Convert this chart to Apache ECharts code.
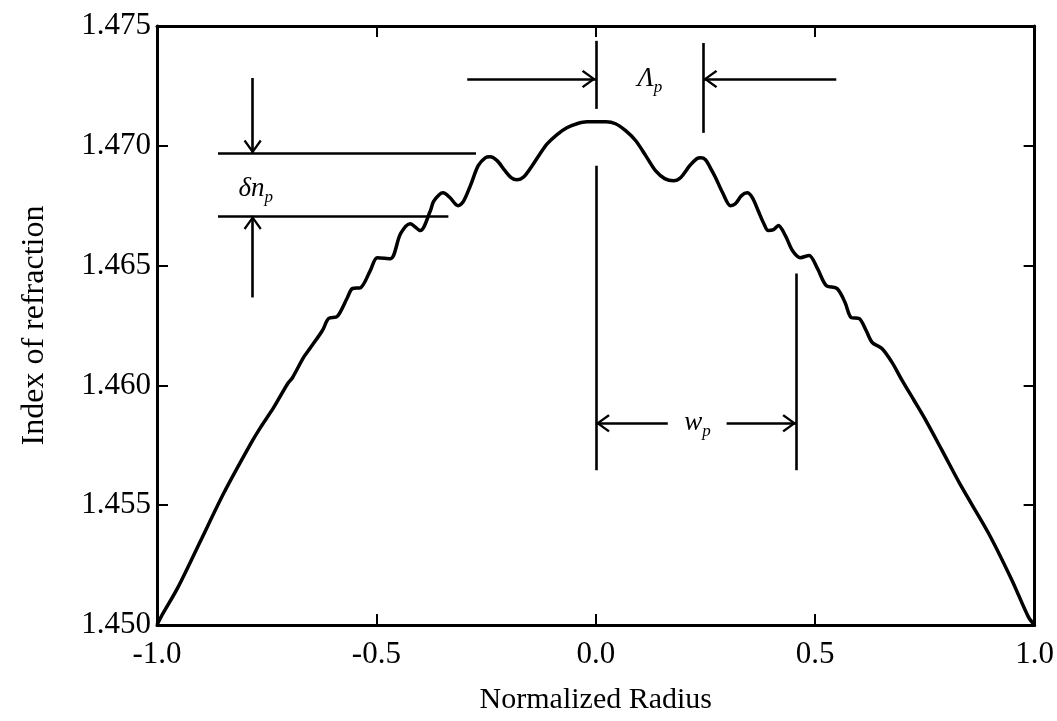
<!DOCTYPE html>
<html>
<head>
<meta charset="utf-8">
<script src="https://cdn.jsdelivr.net/npm/echarts@6/dist/echarts.min.js"></script>
<style>
html,body{margin:0;padding:0;background:#fff;}
#chart{width:1057px;height:721px;}
</style>
</head>
<body>
<div id="chart"></div>
<script>
// Normalized radius (x) and index of refraction (y)
const radius = [
  -1.0, -0.991, -0.952, -0.900, -0.848, -0.786, -0.764, -0.734, -0.702, -0.691,
  -0.666, -0.650, -0.623, -0.609, -0.589, -0.566, -0.555, -0.536, -0.514, -0.498,
  -0.468, -0.445, -0.423, -0.400, -0.377, -0.370, -0.357, -0.348, -0.332, -0.314,
  -0.302, -0.286, -0.268, -0.252, -0.241, -0.225, -0.207, -0.193, -0.180, -0.164,
  -0.145, -0.127, -0.111, -0.089, -0.066, -0.043, -0.020, 0.000,
  0.023, 0.045, 0.068, 0.091, 0.114, 0.136, 0.157, 0.177, 0.193, 0.214,
  0.230, 0.239, 0.250, 0.261, 0.273, 0.289, 0.307, 0.318, 0.332, 0.345,
  0.357, 0.370, 0.382, 0.393, 0.405, 0.416, 0.432, 0.448, 0.466, 0.486,
  0.505, 0.525, 0.550, 0.568, 0.582, 0.600, 0.616, 0.630, 0.652, 0.675,
  0.698, 0.725, 0.752, 0.789, 0.834, 0.895, 0.948, 0.986, 1.0
];
const index = [
  1.45000, 1.45033, 1.45158, 1.45354, 1.45550, 1.45758, 1.45825, 1.45908, 1.46008, 1.46033,
  1.46117, 1.46158, 1.46229, 1.46279, 1.46288, 1.46367, 1.46404, 1.46408, 1.46479, 1.46533,
  1.46529, 1.46633, 1.46675, 1.46646, 1.46729, 1.46767, 1.46796, 1.46804, 1.46783, 1.46750,
  1.46767, 1.46833, 1.46917, 1.46950, 1.46954, 1.46938, 1.46896, 1.46867, 1.46858, 1.46871,
  1.46917, 1.46967, 1.47008, 1.47046, 1.47075, 1.47092, 1.47100, 1.47100,
  1.47100, 1.47092, 1.47063, 1.47021, 1.46958, 1.46896, 1.46863, 1.46854, 1.46867, 1.46917,
  1.46946, 1.46950, 1.46942, 1.46908, 1.46867, 1.46804, 1.46750, 1.46758, 1.46792, 1.46804,
  1.46783, 1.46729, 1.46679, 1.46646, 1.46650, 1.46667, 1.46625, 1.46563, 1.46533, 1.46542,
  1.46488, 1.46417, 1.46404, 1.46346, 1.46283, 1.46279, 1.46229, 1.46179, 1.46154, 1.46096,
  1.46021, 1.45938, 1.45854, 1.45729, 1.45575, 1.45383, 1.45188, 1.45033, 1.45000
];

// Axis ranges
const xRange = [-1.0, 1.0, 0.5];
const yRange = [1.450, 1.475, 0.005];

// Annotation segments in data units: [x1, y1, x2, y2]
const plainLines = [
  [-0.861, 1.46967, -0.273, 1.46967],   // upper delta-n line
  [-0.861, 1.46708, -0.336, 1.46708],   // lower delta-n line
  [0.0, 1.47438, 0.0, 1.47154],         // Lambda left marker
  [0.245, 1.47429, 0.245, 1.47054],     // Lambda right marker
  [0.0, 1.46917, 0.0, 1.45646],         // w left marker
  [0.457, 1.46467, 0.457, 1.45646]      // w right marker
];
// Arrow segments (arrowhead at second point): [x1, y1, x2, y2]
const arrowLines = [
  [-0.782, 1.47283, -0.782, 1.46967],   // down arrow to delta-n
  [-0.782, 1.46367, -0.782, 1.46708],   // up arrow to delta-n
  [-0.293, 1.47279, 0.0, 1.47279],      // Lambda left arrow
  [0.548, 1.47279, 0.245, 1.47279],     // Lambda right arrow
  [0.164, 1.45842, 0.0, 1.45842],       // w left arrow
  [0.298, 1.45842, 0.457, 1.45842]      // w right arrow
];
// Annotation labels: [x, y, main, subscript]
const notes = [
  [-0.775, 1.46821, 'δn', 'p'],
  [0.123, 1.47279, 'Λ', 'p'],
  [0.232, 1.45842, 'w', 'p']
];

const FONT = 'Liberation Serif';
const chevron = 'path://M10,0 L20,13 L18,14.6 L10,4 L2,14.6 L0,13 Z';

const curve = radius.map((x, i) => [x, index[i]]);

const mlData = [];
plainLines.forEach(s => {
  mlData.push([{coord: [s[0], s[1]], symbol: 'none'}, {coord: [s[2], s[3]], symbol: 'none'}]);
});
arrowLines.forEach(s => {
  mlData.push([{coord: [s[0], s[1]], symbol: 'none'}, {coord: [s[2], s[3]], symbol: chevron, symbolSize: [18, 14], symbolOffset: [0, '50%']}]);
});

const chart = echarts.init(document.getElementById('chart'), null, {renderer: 'canvas'});

const axisLineStyle = {color: '#000', width: 3};
const tickStyle = {color: '#000', width: 2};

chart.setOption({
  animation: false,
  backgroundColor: '#fff',
  grid: {left: 157, right: 21, top: 26, bottom: 96, containLabel: false},
  xAxis: [
    {
      type: 'value', min: xRange[0], max: xRange[1], interval: xRange[2],
      position: 'bottom',
      name: 'Normalized Radius', nameLocation: 'middle', nameGap: 60,
      nameTextStyle: {fontFamily: FONT, fontSize: 30, color: '#000'},
      axisLine: {show: true, onZero: false, lineStyle: axisLineStyle},
      axisTick: {show: true, inside: true, length: 11, lineStyle: tickStyle},
      axisLabel: {show: true, margin: 14, fontFamily: FONT, fontSize: 31, color: '#000',
        formatter: v => v.toFixed(1)},
      splitLine: {show: false}
    },
    {
      type: 'value', min: xRange[0], max: xRange[1], interval: xRange[2],
      position: 'top',
      axisLine: {show: true, onZero: false, lineStyle: axisLineStyle},
      axisTick: {show: true, inside: true, length: 11, lineStyle: tickStyle},
      axisLabel: {show: false},
      splitLine: {show: false}
    }
  ],
  yAxis: [
    {
      type: 'value', min: yRange[0], max: yRange[1], interval: yRange[2],
      position: 'left',
      name: 'Index of refraction', nameLocation: 'middle', nameGap: 106, nameRotate: 90,
      nameTextStyle: {fontFamily: FONT, fontSize: 32, color: '#000'},
      axisLine: {show: true, onZero: false, lineStyle: axisLineStyle},
      axisTick: {show: true, inside: true, length: 11, lineStyle: tickStyle},
      axisLabel: {show: true, margin: 6, fontFamily: FONT, fontSize: 31, color: '#000',
        formatter: v => v.toFixed(3)},
      splitLine: {show: false}
    },
    {
      type: 'value', min: yRange[0], max: yRange[1], interval: yRange[2],
      position: 'right',
      axisLine: {show: true, onZero: false, lineStyle: axisLineStyle},
      axisTick: {show: true, inside: true, length: 11, lineStyle: tickStyle},
      axisLabel: {show: false},
      splitLine: {show: false}
    }
  ],
  series: [
    {
      type: 'line',
      data: curve,
      xAxisIndex: 0, yAxisIndex: 0,
      showSymbol: false,
      smooth: 0.3,
      lineStyle: {color: '#000', width: 3.5},
      silent: true,
      markLine: {
        silent: true,
        animation: false,
        symbol: 'none',
        label: {show: false},
        lineStyle: {color: '#000', width: 2.6, type: 'solid'},
        emphasis: {disabled: true},
        data: mlData
      }
    },
    {
      type: 'scatter',
      xAxisIndex: 0, yAxisIndex: 0,
      symbolSize: 0,
      silent: true,
      itemStyle: {opacity: 1, color: '#000'},
      data: notes.map(n => ({value: [n[0], n[1]], main: n[2], sub: n[3]})),
      label: {
        show: true,
        position: 'inside',
        color: '#000',
        textBorderWidth: 0,
        formatter: p => '{m|' + p.data.main + '}{s|' + p.data.sub + '}',
        rich: {
          m: {fontFamily: FONT, fontStyle: 'italic', fontSize: 27, color: '#000', lineHeight: 34, textBorderWidth: 0},
          s: {fontFamily: FONT, fontStyle: 'italic', fontSize: 17, color: '#000', lineHeight: 17, verticalAlign: 'bottom', textBorderWidth: 0}
        }
      }
    }
  ]
});
</script>
</body>
</html>
